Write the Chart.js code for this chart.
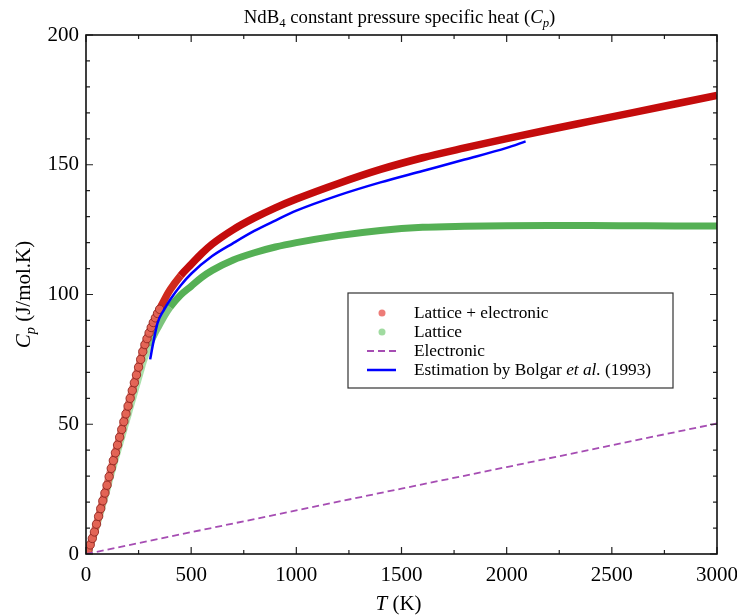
<!DOCTYPE html>
<html>
<head>
<meta charset="utf-8">
<script src="https://cdn.jsdelivr.net/npm/chart.js@4.4.0/dist/chart.umd.min.js"></script>
<style>
  html, body { margin: 0; padding: 0; background: #fff; }
  #wrap { width: 737px; height: 616px; }
</style>
</head>
<body>
<div id="wrap"><canvas id="myChart" width="737" height="616"></canvas></div>
<script>
// temperatures (K) and Cp (J/mol.K)
const tempCalc = [0, 10, 20, 30, 40, 50, 60, 70, 80, 90, 100, 110, 120, 130, 140, 150, 160, 170, 180, 190,
  200, 210, 220, 230, 240, 250, 260, 270, 280, 290, 300, 310, 320, 330, 340, 350, 375, 400, 450, 500,
  550, 600, 700, 800, 900, 1000, 1200, 1400, 1600, 1800, 2000, 2200, 2400, 2600, 2800, 3000];

const cpTotal = [0, 1.5, 3.5, 6, 8.5, 11.5, 14.5, 17.5, 20.5, 23.5, 26.5, 29.8, 33, 36, 39, 42, 45, 48, 51, 54,
  57, 60, 63, 66, 69, 72, 75, 78, 80.7, 83, 85.2, 87.3, 89.2, 91, 92.7, 94.3, 98.3, 101.8, 107.3, 111.6,
  115.8, 119.4, 125, 129.5, 133.4, 136.8, 142.8, 148.2, 152.7, 156.5, 160.1, 163.5, 166.8, 170.1, 173.4, 176.7];

const cpLattice = [0, 1.3, 3.2, 5.5, 7.8, 10.7, 13.5, 16.3, 19.2, 22.0, 24.8, 28.0, 31.0, 33.8, 36.7, 39.5, 42.3, 45.1, 48.0, 50.8,
  53.6, 56.5, 59.3, 62.1, 65.0, 67.8, 70.6, 73.5, 76.0, 78.1, 80.2, 82.1, 83.8, 85.5, 87.0, 88.4, 92.0, 95.1, 99.8, 103.2,
  106.6, 109.3, 113.3, 116.1, 118.3, 120.0, 122.7, 124.7, 125.9, 126.3, 126.5, 126.6, 126.6, 126.5, 126.4, 126.4];

const tempElec = [0, 500, 1000, 1500, 2000, 2500, 3000];
const cpElec = [0, 8.4, 16.8, 25.2, 33.5, 41.9, 50.3];

const tempBolgar = [305, 320, 340, 370, 400, 450, 500, 600, 700, 800, 900, 1000, 1200, 1400, 1600, 1800, 2000, 2090];
const cpBolgar = [75, 81.5, 89, 94, 98, 103.5, 108, 114.8, 119.8, 124.5, 128.5, 132.3, 138.2, 143.2, 147.6, 152, 156.5, 159];

const xTicks = [0, 500, 1000, 1500, 2000, 2500, 3000];
const xMinor = [250, 750, 1250, 1750, 2250, 2750];
const yTicks = [0, 50, 100, 150, 200];
const yMinor = [10, 20, 30, 40, 60, 70, 80, 90, 110, 120, 130, 140, 160, 170, 180, 190];

const pts = (xs, ys) => xs.map((t, i) => ({ x: t, y: ys[i] }));
const SERIF = '"Liberation Serif", "Times New Roman", serif';

// draws a string made of pieces: [text, style], style '', 'i', 'sub', 'isub'
function richText(ctx, parts, cx, by, size) {
  const fontOf = s => (s.includes('i') ? 'italic ' : '') + (s.includes('sub') ? size * 0.68 : size) + 'px ' + SERIF;
  let total = 0;
  parts.forEach(([t, s]) => { ctx.font = fontOf(s); total += ctx.measureText(t).width; });
  let x = cx - total / 2;
  ctx.textAlign = 'left';
  ctx.textBaseline = 'alphabetic';
  parts.forEach(([t, s]) => {
    ctx.font = fontOf(s);
    ctx.fillText(t, x, by + (s.includes('sub') ? size * 0.22 : 0));
    x += ctx.measureText(t).width;
  });
}

const decorations = {
  id: 'decorations',
  afterDraw(chart) {
    const { ctx, chartArea: a, scales: { x, y } } = chart;
    ctx.save();
    ctx.strokeStyle = '#222';
    ctx.lineWidth = 1.2;
    ctx.beginPath();
    const tx = (v, len) => {
      const px = x.getPixelForValue(v);
      ctx.moveTo(px, a.bottom); ctx.lineTo(px, a.bottom - len);
      ctx.moveTo(px, a.top); ctx.lineTo(px, a.top + len);
    };
    const ty = (v, len) => {
      const py = y.getPixelForValue(v);
      ctx.moveTo(a.left, py); ctx.lineTo(a.left + len, py);
      ctx.moveTo(a.right, py); ctx.lineTo(a.right - len, py);
    };
    xTicks.forEach(v => tx(v, 7));
    xMinor.forEach(v => tx(v, 4));
    yTicks.forEach(v => ty(v, 7));
    yMinor.forEach(v => ty(v, 4));
    ctx.stroke();

    // frame
    ctx.lineWidth = 1.6;
    ctx.strokeStyle = '#111';
    ctx.strokeRect(a.left, a.top, a.right - a.left, a.bottom - a.top);

    ctx.fillStyle = '#000';
    // title
    richText(ctx, [['NdB', ''], ['4', 'sub'], [' constant pressure specific heat (', ''], ['C', 'i'], ['p', 'isub'], [')', '']],
      (a.left + a.right) / 2 - 2, 23, 18.8);
    // x axis title
    richText(ctx, [['T', 'i'], [' (K)', '']], (a.left + a.right) / 2 - 3, 610, 21);
    // y axis title
    ctx.save();
    ctx.translate(30, (a.top + a.bottom) / 2);
    ctx.rotate(-Math.PI / 2);
    richText(ctx, [['C', 'i'], ['p', 'isub'], [' (J/mol.K)', '']], 0, 0, 21);
    ctx.restore();

    // legend
    const lx = 348, ly = 293, lw = 325, lh = 95;
    ctx.fillStyle = '#fff';
    ctx.fillRect(lx, ly, lw, lh);
    ctx.strokeStyle = '#333';
    ctx.lineWidth = 1.2;
    ctx.strokeRect(lx, ly, lw, lh);
    const rows = [313, 332, 351, 370];
    const mx = 382, textX = 414;
    const lf = '17.3px ' + SERIF;
    ctx.fillStyle = 'rgba(235,110,105,0.9)';
    ctx.beginPath(); ctx.arc(mx, rows[0], 3.5, 0, Math.PI * 2); ctx.fill();
    ctx.fillStyle = 'rgba(150,215,150,0.9)';
    ctx.beginPath(); ctx.arc(mx, rows[1], 3.5, 0, Math.PI * 2); ctx.fill();
    ctx.strokeStyle = '#a64db3';
    ctx.lineWidth = 1.8;
    ctx.setLineDash([7, 4]);
    ctx.beginPath(); ctx.moveTo(367, rows[2]); ctx.lineTo(396, rows[2]); ctx.stroke();
    ctx.setLineDash([]);
    ctx.strokeStyle = '#0000ff';
    ctx.lineWidth = 2.5;
    ctx.beginPath(); ctx.moveTo(367, rows[3]); ctx.lineTo(396, rows[3]); ctx.stroke();

    ctx.fillStyle = '#000';
    ctx.textAlign = 'left';
    ctx.textBaseline = 'middle';
    ctx.font = lf;
    ctx.fillText('Lattice + electronic', textX, rows[0]);
    ctx.fillText('Lattice', textX, rows[1]);
    ctx.fillText('Electronic', textX, rows[2]);
    let px = textX;
    const seg = (t, f) => { ctx.font = f; ctx.fillText(t, px, rows[3]); px += ctx.measureText(t).width; };
    seg('Estimation by Bolgar ', lf);
    seg('et al.', 'italic ' + lf);
    seg(' (1993)', lf);
    ctx.restore();
  }
};

Chart.defaults.font.family = SERIF;
Chart.defaults.color = '#000';

const ctx = document.getElementById('myChart').getContext('2d');
new Chart(ctx, {
  type: 'line',
  data: {
    datasets: [
      {
        label: 'Estimation by Bolgar et al. (1993)',
        data: pts(tempBolgar, cpBolgar),
        borderColor: '#0000ff',
        borderWidth: 2.5,
        pointRadius: 0,
        cubicInterpolationMode: 'monotone',
        order: 0
      },
      {
        label: 'Electronic',
        data: pts(tempElec, cpElec),
        borderColor: '#a64db3',
        borderWidth: 1.8,
        borderDash: [7, 4],
        pointRadius: 0,
        order: 1
      },
      {
        label: 'Lattice + electronic',
        data: pts(tempCalc, cpTotal),
        borderColor: '#c40c0c',
        borderWidth: 7.5,
        segment: {
          borderColor: c => c.p0.parsed.x < 340 ? 'rgba(222,95,80,0.85)' : (c.p0.parsed.x < 450 ? '#cf2a1e' : '#c40c0c')
        },
        pointRadius: c => (c.raw && c.raw.x <= 350 ? 4.2 : 0),
        pointBackgroundColor: 'rgba(228,100,85,0.9)',
        pointBorderColor: 'rgba(140,35,30,0.85)',
        pointBorderWidth: 1,
        cubicInterpolationMode: 'monotone',
        order: 2
      },
      {
        label: 'Lattice',
        data: pts(tempCalc, cpLattice),
        borderColor: '#55b055',
        borderWidth: 7,
        segment: {
          borderColor: c => c.p0.parsed.x < 300 ? 'rgba(150,215,150,0.8)' : (c.p0.parsed.x < 400 ? '#7cc47c' : '#55b055')
        },
        pointRadius: 0,
        cubicInterpolationMode: 'monotone',
        order: 3
      }
    ]
  },
  options: {
    responsive: false,
    animation: false,
    devicePixelRatio: 1,
    layout: { padding: { top: 35, right: 20, left: 0, bottom: 0 } },
    plugins: { legend: { display: false }, tooltip: { enabled: false }, title: { display: false } },
    scales: {
      x: {
        type: 'linear',
        min: 0,
        max: 3000,
        afterBuildTicks: s => { s.ticks = xTicks.map(v => ({ value: v })); },
        afterFit: s => { s.height = 62; s.paddingLeft = 0; s.paddingRight = 0; },
        ticks: { font: { size: 21 }, color: '#000', padding: 9, maxRotation: 0, callback: v => String(v) },
        grid: { display: false, drawTicks: false },
        border: { display: false }
      },
      y: {
        min: 0,
        max: 200,
        afterBuildTicks: s => { s.ticks = yTicks.map(v => ({ value: v })); },
        afterFit: s => { s.width = 86; s.paddingTop = 0; s.paddingBottom = 0; },
        ticks: { font: { size: 21 }, color: '#000', padding: 7, callback: v => String(v) },
        grid: { display: false, drawTicks: false },
        border: { display: false }
      }
    }
  },
  plugins: [decorations]
});
</script>
</body>
</html>
